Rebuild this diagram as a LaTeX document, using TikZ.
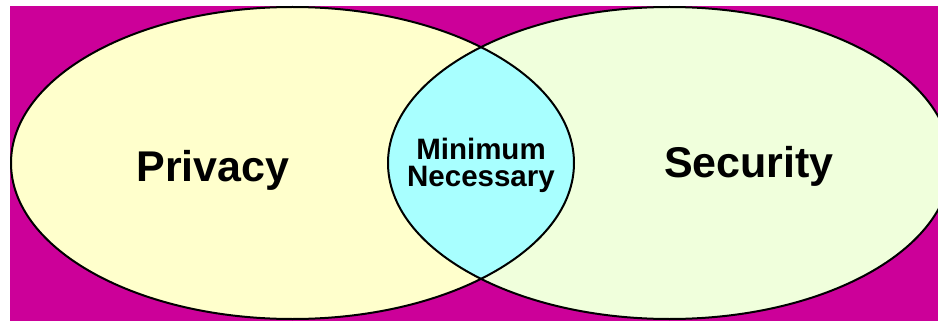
\documentclass[tikz,border=0pt]{standalone}
\usepackage{fontspec}
\setmainfont{Liberation Sans}
\definecolor{bgmag}{RGB}{204,0,153}
\definecolor{privfill}{RGB}{255,255,204}
\definecolor{secfill}{RGB}{240,255,220}
\definecolor{lensfill}{RGB}{168,255,255}
\begin{document}
\begin{tikzpicture}[x=1pt,y=-1pt,
  outline/.style={draw=black,line width=2pt},
  bigtext/.style={font=\fontsize{43}{48}\selectfont\bfseries,inner sep=0pt},
  smalltext/.style={font=\fontsize{29.5}{27}\selectfont\bfseries,align=center,inner sep=0pt}]
\useasboundingbox[fill=white] (0,0) rectangle (938,321);
\fill[bgmag] (10,6) rectangle (938,321);
\begin{scope}
\clip (10,6) rectangle (938,321);
\fill[privfill] (292.5,163) ellipse [x radius=281.5, y radius=156];
\fill[secfill] (669.5,163) ellipse [x radius=281.5, y radius=156];
\begin{scope}
\clip (292.5,163) ellipse [x radius=281.5, y radius=156];
\fill[lensfill] (669.5,163) ellipse [x radius=281.5, y radius=156];
\end{scope}
\draw[outline] (292.5,163) ellipse [x radius=281.5, y radius=156];
\draw[outline] (669.5,163) ellipse [x radius=281.5, y radius=156];
\end{scope}
\node[bigtext] (privacy) at (213,170) {Privacy};
\node[bigtext] (security) at (749,166) {Security};
\node[smalltext] (minnec) at (481,165) {Minimum\\Necessary};
\end{tikzpicture}
\end{document}
